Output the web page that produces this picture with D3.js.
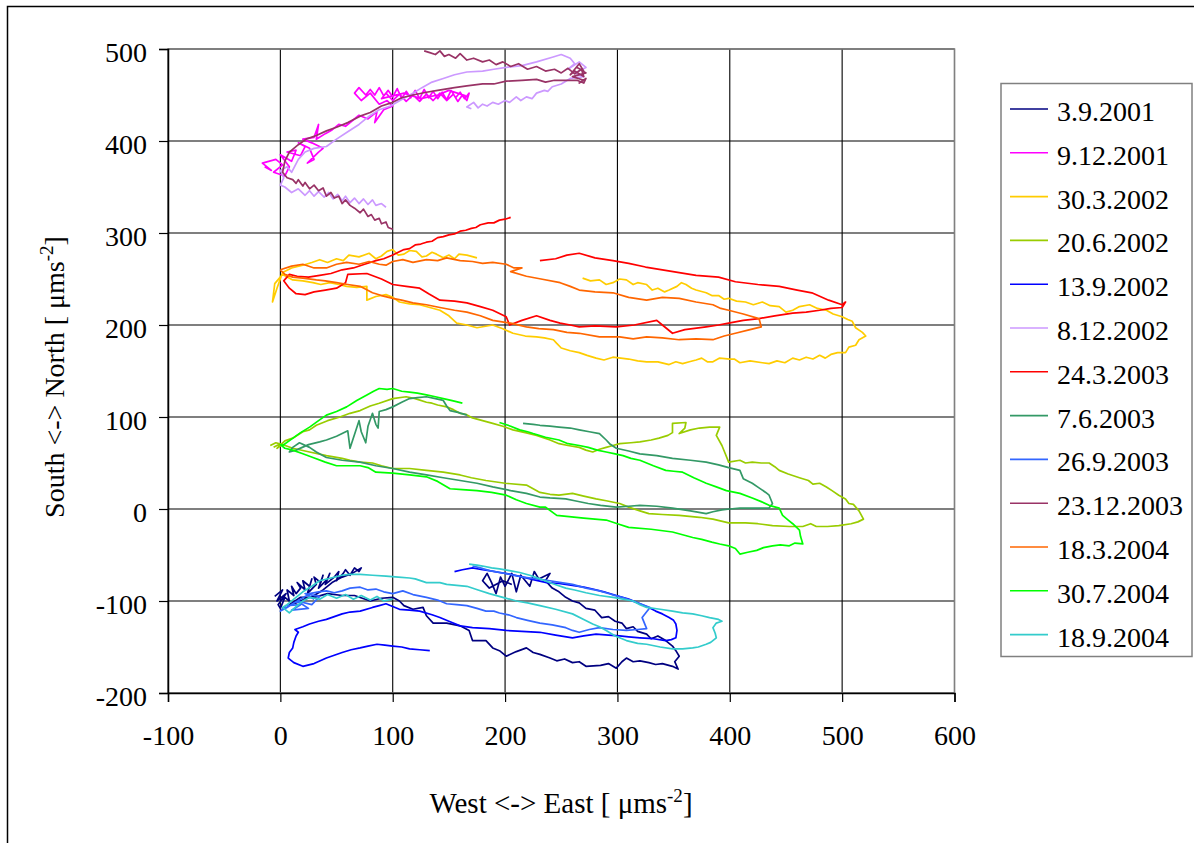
<!DOCTYPE html>
<html><head><meta charset="utf-8">
<script src="https://cdn.jsdelivr.net/npm/d3@7"></script>
<style>body{margin:0;background:#fff}svg{display:block}text{font-family:"Liberation Serif","Times New Roman",serif}</style>
</head><body>
<svg id="c" width="1194" height="843"></svg>
<script>
const xTicks = [-100, 0, 100, 200, 300, 400, 500, 600];
const yTicks = [-200, -100, 0, 100, 200, 300, 400, 500];
const seriesNames = ["3.9.2001","9.12.2001","30.3.2002","20.6.2002","13.9.2002","8.12.2002","24.3.2003","7.6.2003","26.9.2003","23.12.2003","18.3.2004","30.7.2004","18.9.2004"];
const seriesColors = ["#000080","#FF00FF","#FFCC00","#99CC00","#0000FF","#CC99FF","#FF0000","#339966","#3366FF","#993366","#FF6600","#00FF00","#33CCCC"];

const s_3_9_2001 = [[-5,-95],[2,-88],[-3,-100],[5,-92],[-2,-104],[0,-108],[4,-96],[8,-100],[6,-88],[12,-94],[10,-84],[14,-92],[18,-86],[15,-80],[22,-88],[20,-78],[26,-84],[28,-76],[24,-92],[32,-82],[30,-74],[36,-80],[38,-72],[34,-86],[42,-76],[44,-70],[40,-82],[48,-74],[52,-68],[50,-78],[56,-70],[58,-66],[62,-72],[66,-64],[70,-68],[72,-64],[64,-70],[55,-74],[46,-80],[38,-88],[30,-94],[22,-98],[14,-102],[8,-104],[18,-96],[30,-96],[42,-92],[55,-94],[66,-94],[80,-100],[90,-97],[100,-96],[106,-100],[110,-105],[118,-109],[127,-107],[130,-116],[136,-124],[148,-124],[160,-127],[168,-132],[171,-143],[183,-143],[189,-151],[195,-154],[201,-160],[210,-155],[219,-151],[225,-156],[231,-158],[240,-162],[246,-165],[253,-163],[260,-167],[266,-166],[272,-171],[285,-170],[292,-168],[299,-173],[304,-166],[308,-162],[314,-166],[320,-165],[328,-167],[334,-169],[340,-168],[349,-171],[354,-174],[351,-166],[355,-160],[352,-154],[349,-149],[343,-143],[336,-138],[330,-141],[326,-136],[318,-133],[314,-128],[308,-130],[304,-124],[298,-122],[292,-117],[286,-118],[280,-110],[272,-108],[266,-102],[260,-100],[254,-96],[248,-90],[242,-86],[236,-78],[240,-70],[230,-76],[226,-68],[222,-84],[214,-72],[210,-90],[206,-70],[200,-84],[196,-74],[192,-92],[188,-80],[184,-70],[180,-78],[186,-86],[198,-78],[206,-82]];
const s_9_12_2001 = [[-14,372],[-8,368],[-16,376],[-4,380],[2,374],[-6,366],[4,362],[8,372],[0,385],[10,378],[14,390],[6,388],[18,384],[22,394],[16,398],[26,392],[30,380],[24,376],[34,388],[38,392],[28,398],[20,402],[30,404],[34,418],[32,402],[40,408],[46,412],[52,418],[58,416],[64,422],[70,428],[78,424],[86,432],[84,420],[92,434],[100,438],[95,444],[88,440],[80,452],[72,444],[66,452],[70,458],[76,450],[80,456],[84,450],[88,458],[92,449],[96,455],[100,448],[104,457],[108,446],[112,454],[116,447],[120,455],[124,446],[128,456],[132,447],[136,454],[140,446],[144,453],[148,445],[152,455],[156,447],[160,453],[164,446],[168,452],[166,444],[162,450],[158,443],[154,451],[148,444],[142,452],[136,444],[130,451],[124,443],[118,450],[112,443],[106,451],[100,444],[94,452],[90,446],[110,452],[125,446],[140,450],[150,455],[165,449]];
const s_30_3_2002 = [[269,251],[276,248],[284,249],[290,244],[296,246],[302,250],[308,249],[314,244],[318,246],[326,244],[331,238],[336,240],[342,236],[346,238],[353,242],[357,246],[361,244],[366,240],[370,238],[379,235],[384,232],[390,232],[395,228],[399,229],[406,226],[414,225],[421,222],[429,225],[436,221],[444,220],[450,214],[456,216],[462,220],[471,222],[478,218],[486,216],[492,212],[500,209],[505,206],[509,204],[512,197],[518,192],[521,188],[515,184],[512,178],[506,176],[503,170],[496,170],[490,168],[485,164],[480,167],[474,163],[468,165],[462,162],[456,164],[449,159],[442,161],[435,158],[429,159],[418,161],[409,159],[404,163],[400,163],[391,164],[385,160],[380,160],[375,164],[370,162],[364,160],[358,158],[352,160],[346,157],[336,160],[326,160],[318,161],[310,163],[303,164],[296,165],[288,162],[281,164],[273,167],[266,170],[258,172],[250,175],[246,180],[243,184],[235,186],[228,187],[218,188],[207,191],[198,196],[189,200],[175,197],[166,200],[157,202],[150,210],[142,216],[133,219],[124,222],[115,223],[106,225],[100,230],[94,233],[85,231],[77,227],[77,242],[68,241],[59,242],[52,244],[44,246],[36,244],[29,246],[20,248],[11,249],[2,255],[-5,245],[-7,225],[-3,240],[2,257],[10,262],[20,265],[28,268],[35,271],[42,268],[50,272],[56,270],[61,276],[70,274],[79,278],[85,272],[90,275],[95,280],[100,282],[105,276],[110,277],[115,281],[121,280],[126,274],[130,275],[135,279],[139,277],[145,273],[150,276],[155,272],[159,277],[166,276],[175,273]];
const s_20_6_2002 = [[-9,69],[-4,72],[2,70],[-3,66],[4,74],[11,77],[20,84],[26,86],[32,91],[42,96],[53,100],[62,104],[71,107],[80,112],[88,115],[100,120],[112,122],[120,120],[130,116],[135,115],[140,113],[148,111],[154,108],[160,104],[165,103],[171,99],[180,96],[189,93],[198,90],[207,86],[218,83],[228,80],[240,75],[248,71],[256,69],[266,67],[272,64],[278,62],[284,65],[290,67],[296,69],[302,71],[312,72],[320,73],[330,75],[337,77],[345,80],[349,83],[349,93],[361,94],[360,88],[355,82],[365,86],[373,88],[382,89],[391,89],[388,80],[393,69],[396,60],[399,51],[409,53],[414,50],[420,51],[428,50],[435,50],[440,46],[444,42],[452,38],[462,34],[470,31],[474,27],[480,28],[486,24],[491,20],[497,15],[503,11],[506,6],[510,5],[515,-2],[519,-11],[514,-14],[508,-16],[497,-18],[487,-19],[477,-19],[472,-16],[465,-19],[453,-19],[438,-18],[425,-16],[414,-15],[399,-15],[385,-11],[373,-9],[355,-7],[340,-6],[328,-5],[320,-2],[310,2],[302,6],[290,9],[281,11],[270,14],[260,17],[248,15],[240,16],[231,18],[219,26],[200,28],[183,31],[170,34],[160,37],[145,40],[130,42],[115,44],[100,44],[90,47],[82,50],[71,51],[62,53],[55,55],[41,58],[26,62],[11,66],[0,71],[-6,67]];
const s_13_9_2002 = [[155,-68],[162,-66],[171,-64],[180,-66],[186,-67],[195,-69],[205,-71],[216,-74],[226,-77],[237,-80],[248,-81],[260,-83],[270,-85],[278,-87],[288,-90],[299,-94],[310,-98],[320,-103],[328,-107],[334,-111],[340,-114],[346,-118],[350,-121],[352,-125],[353,-132],[352,-140],[348,-142],[343,-143],[332,-141],[320,-140],[310,-139],[302,-138],[292,-137],[281,-136],[270,-138],[260,-140],[245,-137],[231,-134],[215,-133],[201,-132],[186,-130],[171,-129],[160,-127],[150,-122],[142,-118],[135,-115],[124,-111],[115,-110],[106,-109],[100,-106],[94,-103],[88,-105],[82,-107],[71,-111],[62,-112],[55,-114],[48,-117],[41,-120],[34,-122],[26,-125],[20,-128],[13,-131],[16,-134],[14,-138],[12,-145],[11,-151],[8,-156],[7,-162],[12,-167],[20,-171],[30,-168],[41,-162],[48,-159],[55,-156],[63,-153],[71,-151],[78,-149],[86,-147],[93,-148],[100,-149],[108,-150],[115,-152],[124,-153],[133,-154]];
const s_8_12_2002 = [[94,328],[90,332],[85,330],[82,336],[78,331],[74,337],[70,332],[66,338],[62,333],[58,340],[55,335],[51,342],[47,337],[43,344],[39,339],[34,345],[30,340],[26,346],[22,341],[16,348],[10,344],[4,350],[0,352],[3,360],[0,368],[6,372],[10,366],[16,380],[22,388],[30,392],[41,394],[50,402],[60,410],[70,418],[79,427],[88,434],[98,438],[108,445],[118,452],[126,458],[135,464],[145,468],[155,472],[166,475],[180,476],[190,478],[201,480],[215,482],[228,486],[242,491],[250,494],[258,490],[262,484],[256,478],[266,486],[272,480],[262,474],[270,470],[258,468],[250,462],[242,459],[238,454],[235,455],[228,452],[224,446],[219,448],[214,444],[210,448],[204,442],[200,444],[194,440],[189,442],[184,438],[180,440],[176,436],[172,442],[166,437],[170,435]];
const s_24_3_2003 = [[205,317],[200,315],[195,314],[190,311],[185,311],[178,309],[174,306],[170,305],[165,303],[160,302],[155,299],[150,298],[145,296],[140,295],[135,291],[130,290],[125,288],[120,287],[115,283],[110,282],[105,279],[100,276],[92,272],[85,270],[75,266],[65,262],[55,260],[45,256],[35,254],[25,252],[15,253],[8,255],[3,248],[8,240],[14,234],[22,233],[30,236],[40,238],[50,240],[58,246],[60,255],[77,256],[90,250],[100,244],[112,242],[124,240],[132,234],[142,227],[155,226],[166,224],[178,220],[189,216],[201,209],[204,200],[215,205],[228,210],[240,205],[249,202],[258,200],[266,198],[280,199],[299,198],[315,200],[335,205],[340,200],[349,191],[360,195],[379,198],[390,200],[399,202],[412,205],[426,207],[440,210],[456,213],[468,214],[480,216],[490,218],[500,219],[503,225],[500,222],[488,227],[473,235],[460,238],[444,242],[425,244],[405,247],[390,252],[370,254],[355,257],[340,260],[325,263],[310,267],[296,270],[280,273],[266,278],[255,276],[245,272],[231,270]];
const s_7_6_2003 = [[216,93],[225,92],[231,91],[240,90],[248,89],[258,88],[266,86],[275,84],[284,82],[290,75],[293,71],[299,66],[310,63],[320,60],[335,58],[349,55],[365,53],[379,51],[390,48],[399,45],[409,42],[412,33],[420,28],[426,23],[432,18],[435,15],[438,6],[435,1],[422,1],[409,1],[400,0],[393,-1],[385,-3],[379,-5],[365,-2],[349,1],[335,3],[320,4],[310,3],[299,2],[285,4],[274,6],[262,9],[254,11],[240,12],[231,13],[219,17],[205,20],[189,24],[175,28],[160,31],[145,34],[130,37],[115,40],[100,44],[85,47],[71,51],[55,53],[41,56],[32,62],[26,67],[17,72],[11,67],[8,62],[14,64],[25,70],[35,73],[41,75],[50,79],[55,82],[60,85],[62,66],[70,96],[72,84],[76,72],[78,90],[82,104],[85,92],[87,88],[88,106],[94,108],[100,111],[108,116],[115,120],[122,121],[130,122],[138,120],[145,118],[148,112],[151,107],[158,105],[166,102]];
const s_26_9_2003 = [[30,-98],[22,-92],[35,-95],[28,-104],[15,-100],[25,-108],[10,-110],[18,-104],[5,-105],[0,-111],[6,-107],[11,-103],[18,-98],[26,-92],[34,-90],[41,-89],[48,-91],[55,-89],[62,-86],[71,-85],[78,-88],[85,-87],[92,-90],[100,-92],[109,-89],[118,-93],[130,-96],[140,-99],[148,-103],[157,-104],[166,-105],[175,-108],[183,-111],[190,-111],[195,-113],[203,-115],[210,-118],[220,-121],[231,-124],[242,-126],[254,-129],[260,-132],[266,-134],[275,-131],[284,-129],[296,-131],[308,-132],[318,-131],[326,-130],[322,-118],[329,-107],[318,-102],[304,-96],[295,-93],[284,-89],[272,-86],[260,-82],[250,-80],[240,-78],[228,-76],[216,-74],[200,-70],[186,-67],[178,-64],[171,-62]];
const s_23_12_2003 = [[128,498],[133,496],[138,494],[142,498],[146,492],[150,494],[156,490],[160,495],[166,488],[172,490],[180,486],[186,488],[192,483],[198,486],[205,481],[212,484],[220,478],[228,481],[236,476],[244,478],[250,474],[256,479],[262,473],[268,478],[270,470],[262,476],[258,472],[266,484],[270,476],[264,480],[272,474],[260,470],[270,466],[266,463],[272,468],[270,463],[264,466],[254,466],[244,466],[236,464],[228,467],[215,466],[201,465],[190,462],[180,462],[166,460],[155,458],[140,455],[130,453],[118,450],[108,447],[100,442],[90,438],[80,431],[71,427],[60,420],[50,415],[41,411],[32,406],[23,402],[16,396],[8,388],[4,378],[2,366],[6,360],[11,358],[14,354],[16,358],[20,351],[22,355],[26,348],[30,352],[34,346],[38,349],[41,340],[45,344],[48,338],[52,340],[55,332],[58,336],[62,330],[66,327],[71,322],[74,326],[78,318],[81,320],[84,314],[88,316],[90,310],[94,312],[96,306],[100,304]];
const s_18_3_2004 = [[0,260],[10,264],[20,266],[30,262],[41,262],[50,266],[59,268],[70,266],[79,269],[88,266],[94,265],[100,269],[109,271],[118,268],[130,271],[140,270],[148,273],[160,270],[171,269],[180,267],[189,268],[201,266],[208,262],[215,262],[205,258],[219,253],[232,250],[249,246],[258,242],[266,238],[280,236],[296,235],[310,230],[326,227],[340,230],[355,229],[370,225],[385,222],[392,218],[399,216],[412,212],[426,207],[428,198],[418,195],[405,191],[395,188],[385,184],[370,185],[355,184],[340,186],[326,187],[314,185],[302,187],[284,187],[266,191],[255,192],[243,195],[230,196],[219,198],[205,202],[189,205],[178,210],[166,214],[155,216],[142,219],[130,222],[118,224],[108,227],[100,229],[90,232],[82,235],[71,242],[60,244],[50,246],[40,248],[32,249],[20,251],[11,252],[4,255],[0,260]];
const s_30_7_2004 = [[195,94],[205,90],[213,86],[220,84],[225,82],[236,78],[248,75],[256,71],[266,69],[274,67],[282,64],[290,62],[298,60],[305,58],[312,55],[320,53],[332,47],[343,42],[350,41],[358,40],[368,34],[379,28],[388,24],[397,20],[409,17],[420,12],[428,8],[435,4],[444,1],[447,-7],[452,-12],[456,-16],[462,-23],[463,-30],[465,-38],[458,-37],[453,-40],[445,-39],[438,-40],[430,-42],[424,-45],[416,-47],[409,-49],[405,-43],[399,-40],[391,-38],[384,-36],[375,-33],[367,-31],[358,-28],[349,-25],[330,-22],[310,-20],[300,-16],[290,-12],[270,-10],[246,-7],[236,2],[231,2],[219,6],[210,10],[201,15],[188,18],[175,20],[162,21],[151,22],[140,30],[130,35],[115,37],[100,39],[85,40],[78,45],[71,47],[60,47],[50,47],[40,51],[29,56],[20,60],[11,64],[4,66],[0,70],[2,69],[10,76],[18,83],[26,89],[34,96],[41,102],[50,106],[59,111],[68,118],[77,124],[83,128],[88,131],[95,130],[100,131],[108,128],[115,127],[122,126],[130,124],[138,122],[145,120],[152,118],[162,115]];
const s_18_9_2004 = [[168,-60],[175,-61],[180,-62],[188,-64],[195,-65],[204,-67],[213,-69],[222,-72],[231,-76],[242,-81],[254,-86],[262,-88],[272,-91],[284,-94],[296,-96],[305,-98],[314,-100],[320,-104],[326,-107],[338,-109],[349,-111],[358,-113],[367,-114],[375,-116],[382,-118],[390,-120],[393,-122],[388,-124],[385,-129],[387,-135],[388,-140],[383,-145],[379,-147],[372,-150],[367,-151],[358,-152],[349,-152],[338,-150],[326,-147],[318,-146],[308,-143],[298,-138],[290,-132],[284,-128],[278,-125],[270,-120],[260,-114],[245,-109],[231,-105],[220,-102],[210,-100],[198,-96],[186,-92],[176,-88],[166,-84],[157,-83],[148,-82],[142,-80],[130,-80],[120,-76],[115,-75],[105,-74],[94,-73],[82,-72],[71,-71],[62,-71],[55,-72],[45,-75],[35,-78],[28,-84],[20,-90],[12,-98],[6,-104],[2,-107],[8,-113],[14,-106],[20,-100],[26,-96],[35,-98],[42,-93],[50,-97],[58,-93],[65,-98],[72,-94],[80,-99],[86,-95],[92,-100],[100,-98]];

const seriesData = [s_3_9_2001,s_9_12_2001,s_30_3_2002,s_20_6_2002,s_13_9_2002,s_8_12_2002,s_24_3_2003,s_7_6_2003,s_26_9_2003,s_23_12_2003,s_18_3_2004,s_30_7_2004,s_18_9_2004];

const svg = d3.select("#c");
const L = 168, R = 954.5, T = 49, B = 693;
const x = d3.scaleLinear().domain([-100, 600]).range([L, R]);
const y = d3.scaleLinear().domain([-200, 500]).range([B, T]);

svg.append("rect").attr("x", 7.5).attr("y", 6.5).attr("width", 1250).attr("height", 900)
  .attr("fill", "#fff").attr("stroke", "#000").attr("stroke-width", 1.5);

const g = svg.append("g");
g.selectAll("line.v").data(xTicks).join("line")
  .attr("x1", d => x(d)).attr("x2", d => x(d)).attr("y1", T).attr("y2", B)
  .attr("stroke", "#000").attr("stroke-width", 1.1);
g.selectAll("line.h").data(yTicks).join("line")
  .attr("y1", d => y(d)).attr("y2", d => y(d)).attr("x1", L).attr("x2", R)
  .attr("stroke", "#000").attr("stroke-width", 1.1);
svg.append("rect").attr("x", L).attr("y", T).attr("width", R - L).attr("height", B - T)
  .attr("fill", "none").attr("stroke", "#808080").attr("stroke-width", 1.5);

const fmt = d => String(d);
const xAxis = d3.axisBottom(x).tickValues(xTicks).tickSize(9).tickPadding(28).tickFormat(fmt);
const yAxis = d3.axisLeft(y).tickValues(yTicks).tickSize(9).tickPadding(12).tickFormat(fmt);
const gx = svg.append("g").attr("transform", `translate(0,${B})`).call(xAxis);
const gy = svg.append("g").attr("transform", `translate(${L},0)`).call(yAxis);
[gx, gy].forEach(a => {
  a.select(".domain").attr("stroke", "#000").attr("stroke-width", 1.5);
  a.selectAll(".tick line").attr("stroke", "#000").attr("stroke-width", 1.2);
  a.selectAll("text").attr("font-family", "Liberation Serif").attr("font-size", 28).attr("fill", "#000");
});
gy.selectAll("text").attr("dy", "0.45em");
gx.selectAll("text").attr("dy", "0.55em");

const line = d3.line().x(d => x(d[0])).y(d => y(d[1]));
const sg = svg.append("g");
seriesData.forEach((s, i) => {
  sg.append("path").attr("d", line(s)).attr("fill", "none")
    .attr("stroke", seriesColors[i]).attr("stroke-width", 1.7).attr("stroke-linejoin", "round");
});

const xt = svg.append("text").attr("x", 561).attr("y", 813).attr("text-anchor", "middle")
  .attr("font-size", 29).attr("fill", "#000");
xt.append("tspan").text("West <-> East [ μms");
xt.append("tspan").attr("font-size", 19).attr("dy", -11).text("-2");
xt.append("tspan").attr("dy", 11).text("]");

const yt = svg.append("text").attr("transform", "translate(64,377) rotate(-90)").attr("text-anchor", "middle")
  .attr("font-size", 28).attr("fill", "#000");
yt.append("tspan").text("South <-> North [ μms");
yt.append("tspan").attr("font-size", 19).attr("dy", -11).text("-2");
yt.append("tspan").attr("dy", 11).text("]");

const lg = svg.append("g");
lg.append("rect").attr("x", 1001).attr("y", 83.5).attr("width", 191).attr("height", 573)
  .attr("fill", "#fff").attr("stroke", "#808080").attr("stroke-width", 1.5);
seriesNames.forEach((n, i) => {
  const ly = 109 + i * 43.8;
  lg.append("line").attr("x1", 1010).attr("x2", 1048).attr("y1", ly).attr("y2", ly)
    .attr("stroke", seriesColors[i]).attr("stroke-width", 1.6);
  lg.append("text").attr("x", 1057).attr("y", ly + 12).attr("font-size", 28).attr("fill", "#000").text(n);
});
</script>
</body></html>
